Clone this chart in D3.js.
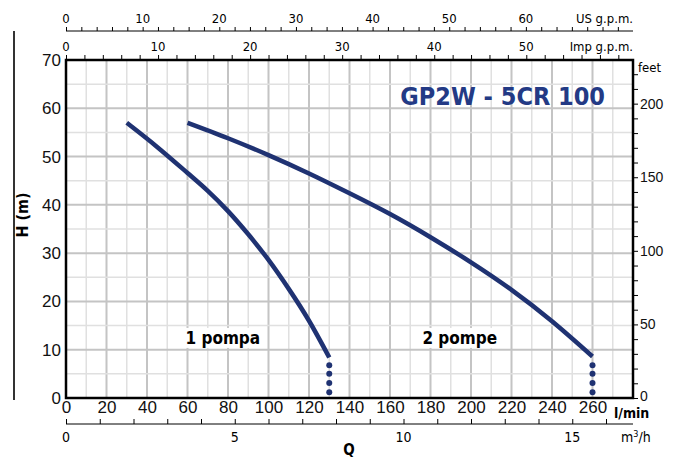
<!DOCTYPE html>
<html>
<head>
<meta charset="utf-8">
<script src="https://cdn.jsdelivr.net/npm/d3@7"></script>
<style>
  body { margin: 0; background: #fff; }
  svg { font-family: "DejaVu Sans", sans-serif; font-stretch: condensed; }
  .tk text { fill: #111; }
</style>
</head>
<body>
<svg id="chart" width="673" height="459"></svg>
<script>
// values
var flow1 = [30, 45, 60, 70, 80, 90, 100, 110, 120, 130]
var head1 = [57, 52, 46.6, 42.9, 38.7, 33.9, 28.6, 22.6, 16, 8.4]
var flow2 = [60, 80, 100, 120, 140, 160, 180, 200, 220, 240, 260]
var head2 = [57, 53.8, 50.3, 46.5, 42.4, 38.1, 33.3, 28.1, 22.4, 15.9, 8.6]
var dotHeads = [6.8, 5.0, 3.1, 1.2]
var dotFlows = [130, 260]
var curveLabels = ["1 pompa", "2 pompe"]
var labelPos = [[59, 11.2], [176, 11.2]]
var title = "GP2W - 5CR 100"

var dd = { left: 66, right: 633, top: 60, bottom: 398 }
var navy = "#1f3272"

var svg = d3.select("#chart")

var x = d3.scaleLinear().domain([0, 280]).range([dd.left, dd.right])
var y = d3.scaleLinear().domain([0, 70]).range([dd.bottom, dd.top])
var xUS = d3.scaleLinear().domain([0, 280 / 3.785]).range([dd.left, dd.right])
var xImp = d3.scaleLinear().domain([0, 280 / 4.546]).range([dd.left, dd.right])
var xM3 = d3.scaleLinear().domain([0, 280 * 0.06]).range([dd.left, dd.right])
var yFt = d3.scaleLinear().domain([0, 70 * 3.2808]).range([dd.bottom, dd.top])

// grid
var grid = svg.append("g")
grid.selectAll(".vx").data(d3.range(10, 280, 10)).enter().append("line")
  .attr("x1", d => x(d)).attr("x2", d => x(d))
  .attr("y1", dd.top).attr("y2", dd.bottom)
  .attr("stroke", d => d % 20 == 0 ? "#c4c4c4" : "#e0e0e0")
  .attr("stroke-width", d => d % 20 == 0 ? 2 : 1.5)
grid.selectAll(".hy").data(d3.range(5, 70, 5)).enter().append("line")
  .attr("x1", dd.left).attr("x2", dd.right)
  .attr("y1", d => y(d)).attr("y2", d => y(d))
  .attr("stroke", d => d % 10 == 0 ? "#c4c4c4" : "#e0e0e0")
  .attr("stroke-width", d => d % 10 == 0 ? 2 : 1.5)

// frame
svg.append("rect")
  .attr("x", dd.left).attr("y", dd.top)
  .attr("width", dd.right - dd.left).attr("height", dd.bottom - dd.top)
  .attr("fill", "none").attr("stroke", "#000").attr("stroke-width", 2.5)

// left axis
var yAxis = svg.append("g").attr("class", "tk")
  .attr("transform", "translate(" + dd.left + ",0)")
  .call(d3.axisLeft(y).tickValues(d3.range(0, 71, 10)).tickSize(0).tickPadding(5))
yAxis.select(".domain").remove()
yAxis.selectAll("text").attr("font-size", 17)

// right axis feet
var ftAxis = svg.append("g").attr("class", "tk")
  .attr("transform", "translate(" + dd.right + ",0)")
  .call(d3.axisRight(yFt).tickValues(d3.range(0, 221, 10)).tickSize(5).tickPadding(2)
    .tickFormat(d => d % 50 == 0 ? d : ""))
ftAxis.select(".domain").remove()
ftAxis.selectAll("text").attr("font-size", 14)
ftAxis.selectAll("text").filter(d => d == 0).attr("dy", "0.2em")
svg.append("text").attr("x", 638).attr("y", 72).attr("font-size", 13).text("feet")

// bottom l/min
var xAxis = svg.append("g").attr("class", "tk")
  .attr("transform", "translate(0," + dd.bottom + ")")
  .call(d3.axisBottom(x).tickValues(d3.range(0, 261, 20)).tickSize(0).tickPadding(3))
xAxis.select(".domain").remove()
xAxis.selectAll("text").attr("font-size", 17)
svg.append("text").attr("x", 614).attr("y", 418).attr("font-size", 14)
  .attr("font-weight", "bold").text("l/min")

// m3/h axis
var m3Axis = svg.append("g").attr("class", "tk")
  .attr("transform", "translate(0,424)")
  .call(d3.axisTop(xM3).tickValues(d3.range(0, 17, 1)).tickSize(5).tickFormat(""))
m3Axis.select(".domain").attr("d", "M" + dd.left + ",0H" + dd.right).attr("stroke", "#000")
svg.append("g").selectAll("text").data([0, 5, 10, 15]).enter().append("text")
  .attr("x", d => xM3(d)).attr("y", 442).attr("text-anchor", "middle")
  .attr("font-size", 14).text(d => d)
svg.append("text").attr("x", 621).attr("y", 442).attr("font-size", 14)
  .html("m<tspan dy='-5' font-size='9'>3</tspan><tspan dy='5'>/h</tspan>")
svg.append("text").attr("x", 349).attr("y", 455).attr("text-anchor", "middle")
  .attr("font-size", 15).attr("font-weight", "bold").text("Q")

// top US gpm axis
var usAxis = svg.append("g").attr("class", "tk")
  .attr("transform", "translate(0,31)")
  .call(d3.axisTop(xUS).tickValues(d3.range(0, 73, 2)).tickSize(4).tickFormat(""))
usAxis.select(".domain").attr("d", "M" + dd.left + ",0H" + dd.right).attr("stroke", "#000")
svg.append("g").selectAll("text").data(d3.range(0, 61, 10)).enter().append("text")
  .attr("x", d => xUS(d)).attr("y", 23).attr("text-anchor", "middle")
  .attr("font-size", 13).text(d => d)
svg.append("text").attr("x", dd.right).attr("y", 23).attr("text-anchor", "end")
  .attr("font-size", 13).text("US g.p.m.")

// top Imp gpm axis (ticks on frame)
var impAxis = svg.append("g").attr("class", "tk")
  .attr("transform", "translate(0," + dd.top + ")")
  .call(d3.axisTop(xImp).tickValues(d3.range(0, 61, 2)).tickSize(5).tickFormat(""))
impAxis.select(".domain").remove()
svg.append("g").selectAll("text").data(d3.range(0, 51, 10)).enter().append("text")
  .attr("x", d => xImp(d)).attr("y", 51).attr("text-anchor", "middle")
  .attr("font-size", 13).text(d => d)
svg.append("text").attr("x", dd.right).attr("y", 51).attr("text-anchor", "end")
  .attr("font-size", 13).text("Imp g.p.m.")

// left rule and H label
svg.append("line").attr("x1", 14).attr("x2", 14).attr("y1", 31).attr("y2", 400)
  .attr("stroke", "#333").attr("stroke-width", 2)
svg.append("text").attr("transform", "translate(28,215) rotate(-90)")
  .attr("text-anchor", "middle").attr("font-size", 16).attr("font-weight", "bold").text("H (m)")

// curves
var line = d3.line().x(d => x(d[0])).y(d => y(d[1])).curve(d3.curveNatural)
var curves = [d3.zip(flow1, head1), d3.zip(flow2, head2)]
svg.selectAll(".curve").data(curves).enter().append("path")
  .attr("class", "curve").attr("d", line)
  .attr("fill", "none").attr("stroke", navy).attr("stroke-width", 4.5)

dotFlows.forEach(function(f) {
  svg.append("g").selectAll("circle").data(dotHeads).enter().append("circle")
    .attr("cx", x(f)).attr("cy", d => y(d)).attr("r", 3).attr("fill", navy)
})

// curve labels
curveLabels.forEach(function(t, i) {
  var g = svg.append("g")
  var txt = g.append("text").attr("x", x(labelPos[i][0])).attr("y", y(labelPos[i][1]))
    .attr("font-size", 17).attr("font-weight", "bold").text(t)
  var b = txt.node().getBBox()
  g.insert("rect", "text").attr("x", b.x - 2).attr("y", b.y).attr("width", b.width + 4)
    .attr("height", b.height).attr("fill", "#fff")
})

svg.append("text").attr("x", 605).attr("y", 105).attr("text-anchor", "end")
  .attr("font-size", 25).attr("font-weight", "bold").attr("fill", "#233a85").text(title)
</script>
</body>
</html>
